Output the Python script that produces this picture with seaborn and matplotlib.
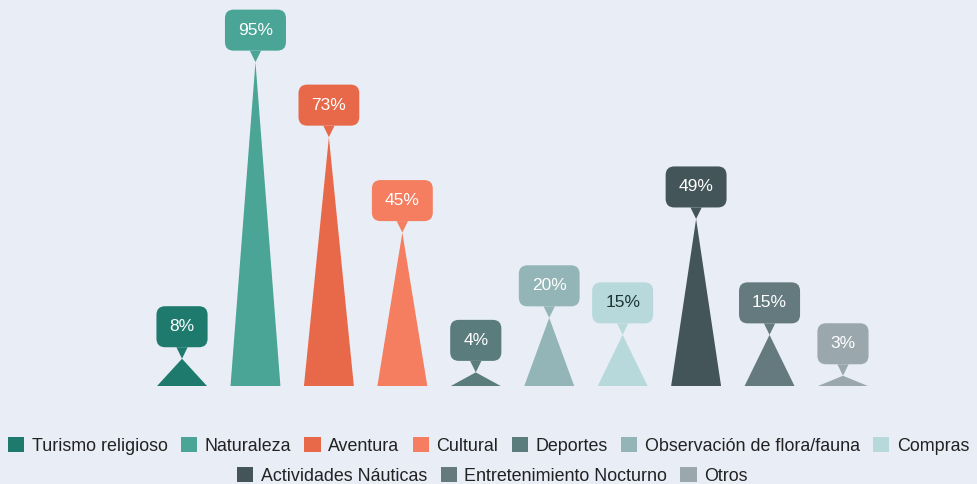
import matplotlib
matplotlib.use("Agg")
import matplotlib.pyplot as plt
import seaborn as sns
import pandas as pd
from matplotlib.patches import Polygon, Patch

categories = ["Turismo religioso", "Naturaleza", "Aventura", "Cultural", "Deportes",
              "Observación de flora/fauna", "Compras", "Actividades Náuticas",
              "Entretenimiento Nocturno", "Otros"]
values = [8, 95, 73, 45, 4, 20, 15, 49, 15, 3]
colors = ["#1f7a6e", "#4aa597", "#e8694a", "#f47e5f", "#5b7c7d",
          "#93b5b7", "#b8d9db", "#435559", "#657a7e", "#9aa8ae"]
label_text_colors = ["white"] * 6 + ["#1e3535"] + ["white"] * 3

BG = "#e9eef6"
sns.set_theme(style="white")
plt.rcParams["font.family"] = ["Liberation Sans", "DejaVu Sans"]

df = pd.DataFrame({"cat": categories, "val": values})
fig = plt.figure(figsize=(9.77, 4.84), dpi=100, facecolor=BG)
ax = fig.add_axes([145.3 / 977, 98 / 484, 734.4 / 977, 375 / 484])
ax.set_facecolor(BG)

sns.barplot(data=df, x="cat", y="val", hue="cat", palette=colors, width=0.68,
            legend=False, ax=ax, order=categories, hue_order=categories)

for i, (patch, col) in enumerate(zip(ax.patches, colors)):
    x0 = patch.get_x()
    w = patch.get_width()
    h = patch.get_height()
    patch.set_visible(False)
    tri = Polygon([(x0, 0), (x0 + w / 2, h), (x0 + w, 0)], closed=True,
                  facecolor=col, edgecolor="none")
    ax.add_patch(tri)
    ax.annotate(f"{int(round(h))}%", xy=(x0 + w / 2, h), xytext=(0, 32),
                textcoords="offset pixels", ha="center", va="center",
                fontsize=12.5, color=label_text_colors[i],
                bbox=dict(boxstyle="round,pad=0.75,rounding_size=0.5", fc=col, ec="none"),
                arrowprops=dict(arrowstyle="wedge,tail_width=0.65,shrink_factor=0.5",
                                fc=col, ec="none", shrinkA=0, shrinkB=0),
                annotation_clip=False)

ax.set_xlim(-0.5, 9.5)
ax.set_ylim(0, 110)
ax.set_xlabel("")
ax.set_ylabel("")
ax.set_xticks([])
ax.set_yticks([])
for s in ax.spines.values():
    s.set_visible(False)

handles = [Patch(facecolor=c, edgecolor="none", label=l) for c, l in zip(colors, categories)]
leg_kw = dict(frameon=False, fontsize=12.9, handlelength=0.9, handleheight=0.9,
              handletextpad=0.42, columnspacing=0.75, labelcolor="#222222", borderaxespad=0)
l1 = fig.legend(handles=handles[:7], ncol=7, loc="center",
                bbox_to_anchor=(0.5, 1 - 446 / 484), **leg_kw)
l2 = fig.legend(handles=handles[7:], ncol=3, loc="center",
                bbox_to_anchor=(0.504, 1 - 476 / 484), **leg_kw)

fig.savefig("out.png", dpi=100, facecolor=BG)
